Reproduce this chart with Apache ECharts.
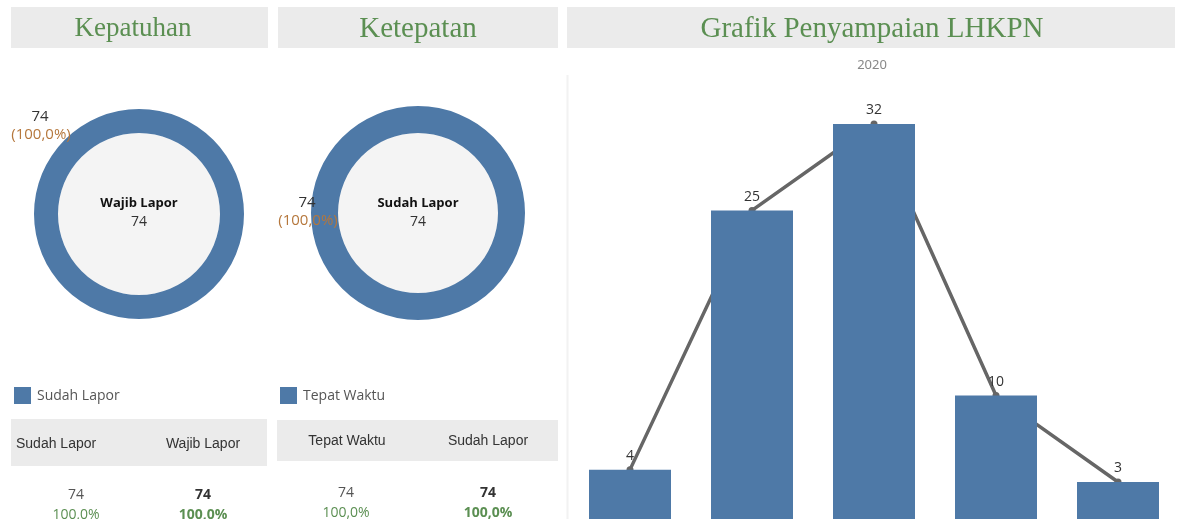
<!DOCTYPE html>
<html>
<head>
<meta charset="utf-8">
<script src="https://cdn.jsdelivr.net/npm/echarts@6/dist/echarts.min.js"></script>
<style>
html,body{margin:0;padding:0;background:#fff;}
#main{width:1180px;height:519px;}
</style>
</head>
<body>
<div id="main"></div>
<script>
// ---- data ----
const headerTitles = ['Kepatuhan', 'Ketepatan', 'Grafik Penyampaian LHKPN'];
const kepatuhanLabels = ['Sudah Lapor', 'Wajib Lapor'];
const kepatuhanValues = [74, 74];
const ketepatanLabels = ['Tepat Waktu', 'Sudah Lapor'];
const ketepatanValues = [74, 74];
const barYear = '2020';
const barCategories = ['1', '2', '3', '4', '5'];
const barValues = [4, 25, 32, 10, 3];

const BLUE = '#4e79a7';
const GREEN = '#5b8f52';
const ORANGE = '#b5773c';

function pct(a, b) { return (a / b * 100).toFixed(1).replace('.', ',') + '%'; }

const chart = echarts.init(document.getElementById('main'), null, {renderer: 'canvas'});

const graphics = [];
// header boxes
const boxes = [[11, 7, 257, 41], [278, 7, 280, 41], [567, 7, 608, 41]];
const headerCx = [133, 418, 872];
const headerSize = [27, 29, 29];
boxes.forEach((b, i) => {
  graphics.push({type: 'rect', shape: {x: b[0], y: b[1], width: b[2], height: b[3]}, style: {fill: '#ebebeb'}, z: 0});
  graphics.push({type: 'text', x: headerCx[i], y: 29, z: 10,
    style: {text: headerTitles[i], fill: GREEN, font: 'normal ' + headerSize[i] + 'px "Liberation Serif"', align: 'center', verticalAlign: 'middle'}});
});
// year label and separator
graphics.push({type: 'text', x: 872, y: 65, z: 10, style: {text: barYear, fill: '#888', font: '13px "Noto Sans"', align: 'center', verticalAlign: 'middle'}});
graphics.push({type: 'line', shape: {x1: 567.5, y1: 75, x2: 567.5, y2: 519}, style: {stroke: '#f2f2f2', lineWidth: 2}, z: 0});

// donut inner circles + center texts
const donuts = [
  {cx: 139, cy: 214, title: kepatuhanLabels[1], val: kepatuhanValues[1], lbl: kepatuhanValues[0], pct: pct(kepatuhanValues[0], kepatuhanValues[1]), lx: 40, ly: 117},
  {cx: 418, cy: 213, title: ketepatanLabels[1], val: ketepatanValues[1], lbl: ketepatanValues[0], pct: pct(ketepatanValues[0], ketepatanValues[1]), lx: 307, ly: 203}
];
donuts.forEach(d => {
  graphics.push({type: 'circle', shape: {cx: d.cx, cy: d.cy, r: 81}, style: {fill: '#f4f4f4'}, z: 0});
  graphics.push({type: 'text', x: d.cx, y: 203, z: 10, style: {text: d.title, fill: '#111', font: 'bold 13px "Open Sans"', align: 'center', verticalAlign: 'middle'}});
  graphics.push({type: 'text', x: d.cx, y: 222, z: 10, style: {text: String(d.val), fill: '#333', font: '14px "Open Sans"', align: 'center', verticalAlign: 'middle'}});
  graphics.push({type: 'text', x: d.lx, y: d.ly, z: 10, style: {text: String(d.lbl), fill: '#333', font: '15px "Open Sans"', align: 'center', verticalAlign: 'middle'}});
  graphics.push({type: 'text', x: d.lx + 1, y: d.ly + 18, z: 10, style: {text: '(' + d.pct + ')', fill: ORANGE, font: '15px "Open Sans"', align: 'center', verticalAlign: 'middle'}});
});

// legends
[[14, 387, kepatuhanLabels[0]], [280, 387, ketepatanLabels[0]]].forEach(l => {
  graphics.push({type: 'rect', shape: {x: l[0], y: l[1], width: 17, height: 17}, style: {fill: BLUE}, z: 5});
  graphics.push({type: 'text', x: l[0] + 23, y: l[1] + 9, z: 10, style: {text: l[2], fill: '#555', font: '14px "Open Sans"', align: 'left', verticalAlign: 'middle'}});
});

// tables
graphics.push({type: 'rect', shape: {x: 11, y: 419, width: 256, height: 47}, style: {fill: '#ebebeb'}, z: 0});
graphics.push({type: 'rect', shape: {x: 277, y: 420, width: 281, height: 41}, style: {fill: '#ebebeb'}, z: 0});
const tables = [
  {labels: kepatuhanLabels, values: kepatuhanValues, cols: [[16, 'left'], [203, 'center']], vx: [76, 203], hy: 444, vy: 495},
  {labels: ketepatanLabels, values: ketepatanValues, cols: [[347, 'center'], [488, 'center']], vx: [346, 488], hy: 441, vy: 493}
];
tables.forEach(t => {
  t.labels.forEach((lab, i) => {
    graphics.push({type: 'text', x: t.cols[i][0], y: t.hy, z: 10, style: {text: lab, fill: '#333', font: '14px "Liberation Sans"', align: t.cols[i][1], verticalAlign: 'middle'}});
    const bold = i === 1 ? 'bold ' : '';
    graphics.push({type: 'text', x: t.vx[i], y: t.vy, z: 10, style: {text: String(t.values[i]), fill: i === 1 ? '#333' : '#555', font: bold + '14px "Open Sans"', align: 'center', verticalAlign: 'middle'}});
    graphics.push({type: 'text', x: t.vx[i], y: t.vy + 20, z: 10, style: {text: pct(t.values[i], t.values[1]), fill: GREEN, font: bold + '14px "Open Sans"', align: 'center', verticalAlign: 'middle'}});
  });
});

const option = {
  animation: false,
  backgroundColor: '#fff',
  graphic: graphics,
  grid: {left: 569, width: 610, top: 124, bottom: -2, containLabel: false},
  xAxis: {type: 'category', data: barCategories, show: false},
  yAxis: {type: 'value', min: 0, max: 32, show: false},
  series: [
    {type: 'pie', center: [donuts[0].cx, donuts[0].cy], radius: [81, 105], silent: true, label: {show: false}, labelLine: {show: false},
      itemStyle: {color: BLUE}, data: [{name: kepatuhanLabels[0], value: kepatuhanValues[0]}]},
    {type: 'pie', center: [donuts[1].cx, donuts[1].cy], radius: [80, 107], silent: true, label: {show: false}, labelLine: {show: false},
      itemStyle: {color: BLUE}, data: [{name: ketepatanLabels[0], value: ketepatanValues[0]}]},
    {type: 'line', data: barValues, z: 2, symbol: 'circle', symbolSize: 7,
      lineStyle: {color: '#666', width: 3.5}, itemStyle: {color: '#666'},
      label: {show: true, position: 'top', distance: 3, color: '#333', fontSize: 14, fontFamily: 'Open Sans'}},
    {type: 'bar', data: barValues, z: 3, barWidth: 82, itemStyle: {color: BLUE}}
  ]
};
chart.setOption(option);
</script>
</body>
</html>
